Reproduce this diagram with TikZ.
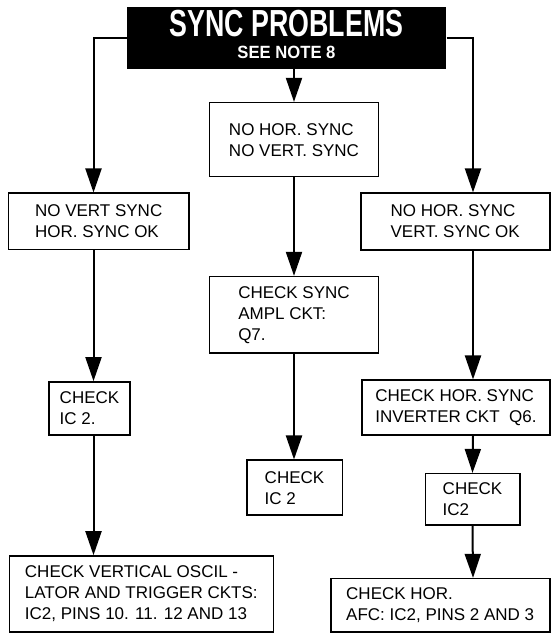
\documentclass[tikz,border=0pt]{standalone}
\usepackage{fontspec}
\setmainfont{Liberation Sans}
\usepackage{graphicx}
\usepackage{tikz}
\usetikzlibrary{arrows.meta}
\tikzstyle{chk}=[draw,line width=1.6pt,align=left,inner sep=0pt,font=\fontsize{17}{21}\selectfont]
\tikzstyle{banner}=[fill=black,text=white,align=center,inner sep=0pt,font=\fontsize{17.7}{22}\selectfont\bfseries]
\tikzstyle{flowhead}=[>/.tip={Triangle[length=24pt,width=16pt]}]
\tikzstyle{flow}=[line width=2pt,flowhead,->]
\newcommand\bigtitle[1]{\scalebox{.71}[1]{\fontsize{37.7}{38}\selectfont #1}}
\newcommand\subtitle[1]{\scalebox{.94}[1]{#1}\rule[-6pt]{0pt}{6pt}}

\begin{document}
\begin{tikzpicture}[x=1pt,y=1pt]
	\useasboundingbox (0,0) rectangle (552,635);
	\node[banner,minimum width=319.6pt,minimum height=62pt] (title) at (286.5,597.3)
		{\bigtitle{SYNC PROBLEMS}\\\subtitle{SEE NOTE 8}};
	% middle column
	\node[chk,minimum width=169pt,minimum height=74pt] (c1) at (294,495.3) {NO HOR. SYNC\\NO VERT. SYNC};
	\node[chk,minimum width=169pt,minimum height=76.3pt] (c2) at (294,320.2) {CHECK SYNC\\AMPL CKT:\\Q7.};
	\node[chk,minimum width=95.6pt,minimum height=55pt] (c3) at (294.5,147.2) {CHECK\\IC 2};
	% left column
	\node[chk,minimum width=180.7pt,minimum height=56.2pt] (l1) at (98.7,413.6) {NO VERT SYNC\\HOR. SYNC OK};
	\node[chk,minimum width=81pt,minimum height=53.3pt] (l2) at (89.5,226.4) {CHECK\\IC 2.};
	\node[chk,minimum width=264pt,minimum height=76pt] (l3) at (141.3,41) {CHECK VERTICAL OSCIL -\\LATOR AND TRIGGER CKTS:\\IC2, PINS 10. 11. 12 AND 13};
	% right column
	\node[chk,minimum width=189pt,minimum height=56.7pt] (r1) at (455.2,413.4) {NO HOR. SYNC\\VERT. SYNC OK};
	\node[chk,minimum width=187.7pt,minimum height=55pt] (r2) at (455.9,227.2) {CHECK HOR. SYNC\\INVERTER CKT\ \ Q6.};
	\node[chk,minimum width=94.4pt,minimum height=51.6pt] (r3) at (472.5,135.5) {CHECK\\IC2};
	\node[chk,minimum width=219pt,minimum height=53.3pt] (r4) at (440.2,29.7) {CHECK HOR.\\AFC: IC2, PINS 2 AND 3};
	\coordinate (lcol) at (93.5,0);
	\coordinate (rcol) at (473,0);

	\draw[flow] (title.south -| c1.north) -- (c1.north);
	\draw[flow] (c1.south) -- (c2.north);
	\draw[flow] (c2.south) -- (c2.south |- c3.north);
	\draw[flow] (title.west) -| (lcol |- l1.north);
	\draw[flow] (lcol |- l1.south) -- (lcol |- l2.north);
	\draw[flow] (lcol |- l2.south) -- (lcol |- l3.north);
	\draw[flow] (title.east) -| (rcol |- r1.north);
	\draw[flow] (rcol |- r1.south) -- (rcol |- r2.north);
	\draw[flow] (rcol |- r2.south) -- (r3.north);
	\draw[flow] (r3.south) -- (rcol |- r4.north);
\end{tikzpicture}
\end{document}
